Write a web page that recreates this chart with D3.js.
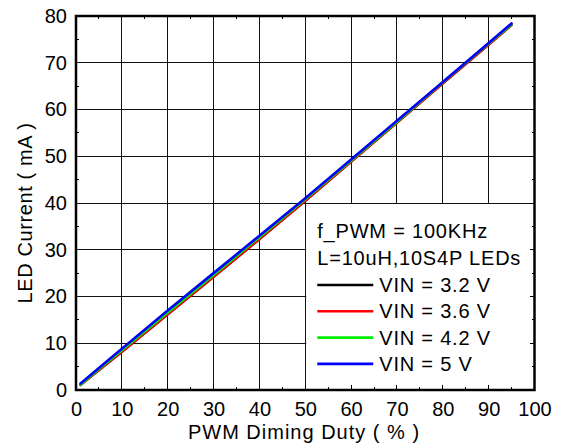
<!DOCTYPE html>
<html><head><meta charset="utf-8">
<script src="https://cdn.jsdelivr.net/npm/d3@7"></script>
<style>body{margin:0;background:#fff}svg{display:block}text{font-family:"Liberation Sans",Arial,sans-serif;fill:#000}</style>
</head><body><svg id="c" width="563" height="448"></svg>
<script>
const duty = [1, 5, 10, 20, 30, 40, 50, 60, 70, 80, 90, 95];
const vin32 = [1.1, 4.3, 8.2, 16.2, 24.2, 32.3, 40.5, 48.9, 57.2, 65.6, 73.9, 78.1];
const vin36 = [1.1, 4.3, 8.2, 16.2, 24.2, 32.3, 40.5, 48.9, 57.2, 65.6, 73.9, 78.1];
const vin42 = [1.2, 4.5, 8.5, 16.6, 24.6, 32.7, 40.8, 49.1, 57.4, 65.8, 74.1, 78.2];
const vin5  = [1.4, 4.7, 8.8, 17.0, 25.0, 33.0, 41.0, 49.3, 57.6, 65.9, 74.2, 78.4];
const seriesNames = ["VIN = 3.2 V", "VIN = 3.6 V", "VIN = 4.2 V", "VIN = 5 V"];
const seriesColors = ["#000000", "#ff0000", "#00ee00", "#0000ff"];
const xTicks = [0,10,20,30,40,50,60,70,80,90,100];
const yTicks = [0,10,20,30,40,50,60,70,80];
const legendTitle = ["f_PWM = 100KHz", "L=10uH,10S4P LEDs"];
const xTitle = "PWM Diming Duty ( % )";
const yTitle = "LED Current ( mA )";

const svg = d3.select("#c");
const x = d3.scaleLinear().domain([0,100]).range([76,534.5]);
const y = d3.scaleLinear().domain([0,80]).range([390,16]);

// grid
const g = svg.append("g");
g.selectAll(".vx").data(xTicks.slice(1,-1)).join("line")
  .attr("x1",d=>x(d)).attr("x2",d=>x(d))
  .attr("y1",y(0)).attr("y2",y(80))
  .attr("stroke","#111").attr("stroke-width",1).attr("shape-rendering","crispEdges");
g.selectAll(".hy").data(yTicks.slice(1,-1)).join("line")
  .attr("x1",x(0)).attr("x2",x(100))
  .attr("y1",d=>y(d)).attr("y2",d=>y(d))
  .attr("stroke","#111").attr("stroke-width",1).attr("shape-rendering","crispEdges");

// legend box (covers grid in lower-right quadrant)
svg.append("rect").attr("x",x(50)+1).attr("y",y(40)+1)
  .attr("width",x(100)-x(50)-1).attr("height",y(0)-y(40)-1).attr("fill","#fff");

// minor/major ticks on all four sides (inward)
const minor = d3.range(5,100,10), minorY = d3.range(5,80,10);
const tk = svg.append("g").attr("stroke","#000").attr("stroke-width",1).attr("shape-rendering","crispEdges");
xTicks.slice(1,-1).forEach(d=>{
  tk.append("line").attr("x1",x(d)).attr("x2",x(d)).attr("y1",y(0)).attr("y2",y(0)-5);
});
minor.forEach(d=>{
  tk.append("line").attr("x1",x(d)).attr("x2",x(d)).attr("y1",y(0)).attr("y2",y(0)-3);
  tk.append("line").attr("x1",x(d)).attr("x2",x(d)).attr("y1",y(80)).attr("y2",y(80)+3);
});
yTicks.slice(1,-1).forEach(d=>{
  tk.append("line").attr("x1",x(100)).attr("x2",x(100)-5).attr("y1",y(d)).attr("y2",y(d));
});
minorY.forEach(d=>{
  tk.append("line").attr("x1",x(0)).attr("x2",x(0)+3).attr("y1",y(d)).attr("y2",y(d));
  tk.append("line").attr("x1",x(100)).attr("x2",x(100)-3).attr("y1",y(d)).attr("y2",y(d));
});

// data lines
const all = [vin32, vin36, vin42, vin5];
const line = d3.line().x((d,i)=>x(duty[i])).y(d=>y(d));
svg.append("g").selectAll("path").data(all).join("path")
  .attr("d",d=>line(d)).attr("fill","none")
  .attr("stroke",(d,i)=>seriesColors[i]).attr("stroke-width",2.6)
  .attr("stroke-linejoin","round").attr("stroke-linecap","round");

// frame
svg.append("rect").attr("x",x(0)).attr("y",y(80)).attr("width",x(100)-x(0)).attr("height",y(0)-y(80))
  .attr("fill","none").attr("stroke","#000").attr("stroke-width",2.5);

// axes labels via d3 axes
const xa = svg.append("g").attr("transform",`translate(0,${y(0)})`)
  .call(d3.axisBottom(x).tickValues(xTicks).tickSize(0).tickPadding(12));
const ya = svg.append("g").attr("transform",`translate(${x(0)},0)`)
  .call(d3.axisLeft(y).tickValues(yTicks).tickSize(0).tickPadding(9));
[xa,ya].forEach(a=>{a.select(".domain").remove();
  a.selectAll("text").style("font-family","Liberation Sans, Arial, sans-serif").style("font-size","20px").attr("fill","#000");});

svg.append("text").attr("x",304).attr("y",439).attr("text-anchor","middle")
  .style("font-size","20px").style("letter-spacing","1px").text(xTitle);
svg.append("text").attr("transform",`translate(32,213) rotate(-90)`).attr("text-anchor","middle")
  .style("font-size","20px").style("letter-spacing","0.6px").text(yTitle);

// legend
const lx = x(50)+12;
legendTitle.forEach((t,i)=>{
  svg.append("text").attr("x",lx).attr("y",238+i*27).style("font-size","20px").style("letter-spacing","0.8px").text(t);
});
seriesNames.forEach((n,i)=>{
  const ly = 285 + i*26.3;
  svg.append("line").attr("x1",lx).attr("x2",lx+56).attr("y1",ly).attr("y2",ly)
    .attr("stroke",seriesColors[i]).attr("stroke-width",2.6);
  svg.append("text").attr("x",lx+62).attr("y",ly+7).style("font-size","20px").style("letter-spacing","0.8px").text(n);
});
</script></body></html>
